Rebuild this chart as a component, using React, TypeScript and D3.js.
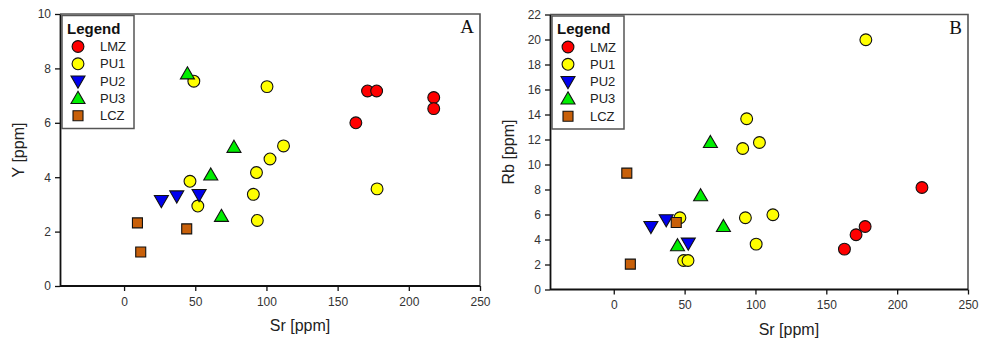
// App.tsx - two scatter panels (Y vs Sr, Rb vs Sr)
import React, { useEffect, useRef } from 'react';
import * as d3 from 'd3';

const groups = ['LMZ', 'PU1', 'PU2', 'PU3', 'LCZ'];
const groupColors = ['#ff0000', '#ffff00', '#0000ee', '#00ee00', '#c8600a'];
const groupShapes = ['circle', 'circle', 'triDown', 'triUp', 'square'];

// Sr values, shared by both panels
const srLMZ = [162.8, 171, 177.4, 217.5, 217.5];
const srPU1 = [49, 100.4, 112, 102.5, 93, 46.3, 51.8, 90.8, 93.6, 177.7];
const srPU2 = [26.2, 37, 52.7];
const srPU3 = [44.5, 77.2, 60.9, 68.4];
const srLCZ = [9.4, 11.7, 44];

// panel A: Y [ppm]
const yLMZ = [6.0, 7.17, 7.17, 6.93, 6.52];
const yPU1 = [7.53, 7.33, 5.15, 4.67, 4.17, 3.85, 2.94, 3.37, 2.41, 3.57];
const yPU2 = [3.14, 3.31, 3.36];
const yPU3 = [7.8, 5.1, 4.08, 2.56];
const yLCZ = [2.32, 1.25, 2.1];

// panel B: Rb [ppm] (Sr values listed separately where order differs)
const rbSrLMZ = [162.8, 171, 177.4, 217.5];
const rbLMZ = [3.23, 4.38, 5.04, 8.16];
const rbSrPU1 = [177.9, 93.8, 102.8, 91, 92.9, 112.3, 100.5, 46.7, 49.3, 52.4];
const rbPU1 = [19.98, 13.66, 11.76, 11.28, 5.74, 5.98, 3.63, 5.74, 2.32, 2.32];
const rbSrPU2 = [26.2, 37, 52.6];
const rbPU2 = [5.04, 5.58, 3.71];
const rbSrPU3 = [68.2, 61.3, 77.4, 45];
const rbPU3 = [11.76, 7.5, 5.04, 3.5];
const rbSrLCZ = [9.2, 11.7, 44.1];
const rbLCZ = [9.31, 2.03, 5.36];

const xTicks = [0, 50, 100, 150, 200, 250];
const yTicksA = [0, 2, 4, 6, 8, 10];
const yTicksB = [0, 2, 4, 6, 8, 10, 12, 14, 16, 18, 20, 22];

interface Panel {
  left: number; right: number; top: number; bottom: number;
  yMax: number; yTicks: number[]; yTitle: string; letter: string;
  series: [number[], number[]][];
}

const panels: Panel[] = [
  {
    left: 60, right: 480, top: 14, bottom: 286, yMax: 10, yTicks: yTicksA,
    yTitle: 'Y [ppm]', letter: 'A',
    series: [[srLMZ, yLMZ], [srPU1, yPU1], [srPU2, yPU2], [srPU3, yPU3], [srLCZ, yLCZ]],
  },
  {
    left: 550, right: 968, top: 14.5, bottom: 289.5, yMax: 22, yTicks: yTicksB,
    yTitle: 'Rb [ppm]', letter: 'B',
    series: [[rbSrLMZ, rbLMZ], [rbSrPU1, rbPU1], [rbSrPU2, rbPU2], [rbSrPU3, rbPU3], [rbSrLCZ, rbLCZ]],
  },
];

const symbolPath = (shape: string) => {
  if (shape === 'circle') return d3.symbol(d3.symbolCircle, 110)();
  if (shape === 'square') return d3.symbol(d3.symbolSquare, 100)();
  const up = d3.symbol(d3.symbolTriangle, 85)();
  return up;
};

const drawMarker = (g: any, shape: string, color: string, x: number, y: number) => {
  const rot = shape === 'triDown' ? ' rotate(180)' : '';
  const dy = shape === 'triUp' ? 1 : shape === 'triDown' ? -1 : 0;
  g.append('path')
    .attr('d', symbolPath(shape))
    .attr('transform', `translate(${x},${y + dy})${rot}`)
    .attr('fill', color)
    .attr('stroke', '#111')
    .attr('stroke-width', 1.1);
};

export default function App() {
  const ref = useRef<SVGSVGElement>(null);

  useEffect(() => {
    const svg = d3.select(ref.current);
    svg.selectAll('*').remove();
    const font = 'Arial, "Liberation Sans", sans-serif';

    panels.forEach((p) => {
      const x = d3.scaleLinear().domain([-45, 250]).range([p.left, p.right]);
      const y = d3.scaleLinear().domain([0, p.yMax]).range([p.bottom, p.top]);
      const g = svg.append('g');

      // frame: top and right in grey
      g.append('path')
        .attr('d', `M${p.left},${p.top}H${p.right}V${p.bottom}`)
        .attr('fill', 'none')
        .attr('stroke', '#555')
        .attr('stroke-width', 1.6);

      const xAxis = g.append('g')
        .attr('transform', `translate(0,${p.bottom})`)
        .call(d3.axisBottom(x).tickValues(xTicks).tickSize(5).tickPadding(6).tickSizeOuter(0));
      const yAxis = g.append('g')
        .attr('transform', `translate(${p.left},0)`)
        .call(d3.axisLeft(y).tickValues(p.yTicks).tickSize(5).tickPadding(4).tickSizeOuter(0));
      [xAxis, yAxis].forEach((a) => {
        a.select('.domain').attr('stroke', '#111').attr('stroke-width', 1.8);
        a.selectAll('.tick line').attr('stroke', '#111').attr('stroke-width', 1.3);
        a.selectAll('.tick text').attr('fill', '#333').style('font-family', font).style('font-size', '12px');
      });
      // extend x axis line to the plot left edge
      xAxis.select('.domain').attr('d', `M${p.left},0H${p.right}`);

      g.append('text')
        .attr('x', (x(0) + p.right) / 2 - 2)
        .attr('y', p.bottom + 45)
        .attr('text-anchor', 'middle')
        .style('font-family', font)
        .style('font-size', '16px')
        .attr('fill', '#222')
        .text('Sr [ppm]');

      g.append('text')
        .attr('transform', `translate(${p.left - 36},${(p.top + p.bottom) / 2}) rotate(-90)`)
        .attr('text-anchor', 'middle')
        .style('font-family', font)
        .style('font-size', '16px')
        .attr('fill', '#222')
        .text(p.yTitle);

      g.append('text')
        .attr('x', p.right - 6)
        .attr('y', p.top + 19)
        .attr('text-anchor', 'end')
        .style('font-family', '"Liberation Serif", "Times New Roman", serif')
        .style('font-size', '19px')
        .attr('fill', '#111')
        .text(p.letter);

      // markers
      p.series.forEach(([xs, ys], gi) => {
        xs.forEach((xv, i) => drawMarker(g, groupShapes[gi], groupColors[gi], x(xv), y(ys[i])));
      });

      // legend
      const lg = g.append('g').attr('transform', `translate(${p.left + 2},${p.top + 1.5})`);
      lg.append('rect')
        .attr('width', 72).attr('height', 113)
        .attr('fill', '#fff').attr('stroke', '#555').attr('stroke-width', 1.5);
      lg.append('text')
        .attr('x', 5).attr('y', 18)
        .style('font-family', font).style('font-size', '15px').style('font-weight', 'bold')
        .attr('fill', '#111')
        .text('Legend');
      groups.forEach((name, gi) => {
        const cy = 31 + gi * 17.3;
        drawMarker(lg, groupShapes[gi], groupColors[gi], 16, cy);
        lg.append('text')
          .attr('x', 38).attr('y', cy + 4.5)
          .style('font-family', font).style('font-size', '13px')
          .attr('fill', '#222')
          .text(name);
      });
    });
  }, []);

  return (
    <svg ref={ref} width={982} height={345}
      style={{ position: 'absolute', left: 0, top: 0, background: '#fff' }} />
  );
}
